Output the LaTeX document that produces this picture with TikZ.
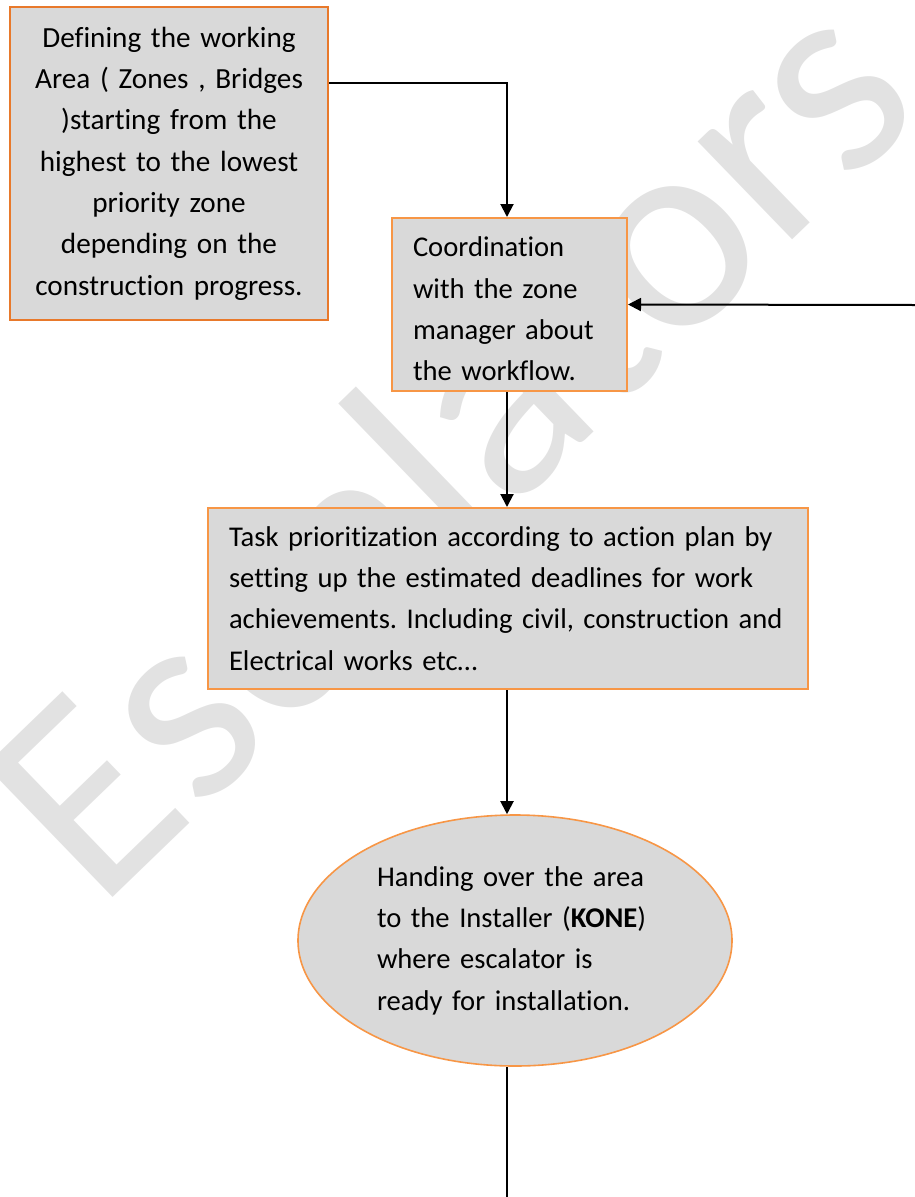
\documentclass[tikz,border=0pt]{standalone}
\usepackage{fontspec}
\setmainfont{Carlito}[Ligatures=NoCommon]
\usetikzlibrary{arrows.meta,shapes.geometric}
\definecolor{boxfill}{HTML}{D9D9D9}
\definecolor{boxline}{HTML}{F79646}
\definecolor{boxlinedark}{HTML}{E8792B}
\definecolor{wmgray}{HTML}{E2E2E2}
\frenchspacing
\tikzset{
  flowbox/.style={draw=boxline, fill=boxfill, line width=2pt, rectangle,
    font=\fontsize{28.6}{41.3}\selectfont, inner ysep=0pt},
  flowoval/.style={draw=boxline, fill=boxfill, line width=1.6pt, ellipse,
    font=\fontsize{28.6}{41.3}\selectfont, inner sep=0pt},
  arr/.style={line width=2pt, -{Triangle[length=13pt,width=13pt]}},
  plainline/.style={line width=1.6pt},
  watermark/.style={text=wmgray, font=\fontsize{285}{285}\selectfont}
}
\begin{document}
\begin{tikzpicture}[x=1pt,y=-1pt]
\useasboundingbox (0,0) rectangle (915,1197);
\node[watermark, rotate=44] (wm) at (445,440) {Escalators};
\node[flowbox, draw=boxlinedark, minimum width=318pt, minimum height=313pt,
      text width=304pt, align=center, inner xsep=7pt,
      font=\fontsize{29.2}{41.3}\selectfont] (b1) at (169,163.5)
  {Defining the working\\Area ( Zones , Bridges\\)starting from the\\highest to the lowest\\priority zone\\depending on the\\construction progress.};
\node[flowbox, minimum width=235pt, minimum height=173pt,
      text width=200pt, align=left, inner xsep=17.5pt] (b2) at (509.5,304.5)
  {\hspace*{3.5pt}\rule{0pt}{29pt}Coordination\\\hspace*{3.5pt}with the zone\\\hspace*{3.5pt}manager about\\\hspace*{3.5pt}the workflow.};
\node[flowbox, minimum width=600pt, minimum height=181pt,
      text width=568pt, align=left, inner xsep=16pt] (b3) at (508,598.5)
  {\hspace*{5pt}Task prioritization according to action plan by\\\hspace*{5pt}setting up the estimated deadlines for work\\\hspace*{5pt}achievements. Including civil, construction and\\\hspace*{5pt}Electrical works etc\ldots};
\node[flowoval, minimum width=434pt, minimum height=251pt,
      text width=290pt, align=left] (ell) at (515,940.5)
  {\hspace*{7pt}Handing over the area\\\hspace*{7pt}to the Installer (\textbf{KONE})\\\hspace*{7pt}where escalator is\\\hspace*{7pt}ready for installation.};
\coordinate (rin) at (915,305);
\coordinate (bot) at (507,1197);
\draw[arr] ([yshift=80.5pt]b1.east) -| ([xshift=-2.5pt]b2.north);
\draw[arr] (rin) -- (b2.east);
\draw[arr] ([xshift=-2.5pt]b2.south) -- ([xshift=-1pt]b3.north);
\draw[arr] ([xshift=-1pt]b3.south) -- ([xshift=-1pt]b3.south |- ell.north);
\draw[plainline] ([xshift=-8pt]ell.south) -- (bot);
\end{tikzpicture}
\end{document}
